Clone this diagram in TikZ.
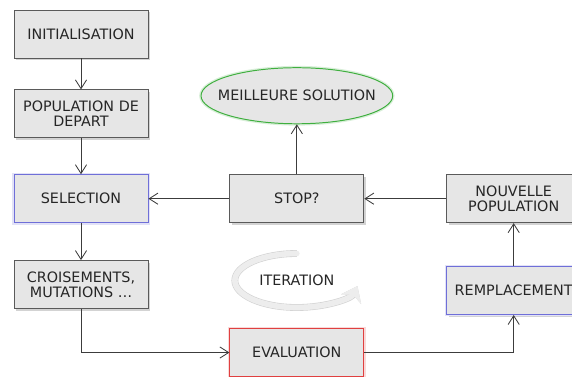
\documentclass[tikz,border=0pt]{standalone}
\usepackage{fontspec}
\setsansfont{DejaVu Sans}
\usetikzlibrary{arrows.meta, positioning, shapes.geometric, shadows}
\definecolor{gfill}{HTML}{E6E6E6}
\definecolor{gedge}{HTML}{5A5A5A}
\definecolor{gline}{HTML}{3C3C3C}
\definecolor{gblue}{HTML}{6F6FD8}
\definecolor{gred}{HTML}{E04040}
\definecolor{ggreen}{HTML}{3FAF3F}

\begin{document}
\begin{tikzpicture}[
  font=\sffamily\fontsize{10.2}{11}\selectfont,
  >={Straight Barb[length=2.2mm, width=2.8mm]},
  % grey steps of the loop, all the same size
  stepbox/.style = {draw=gedge, line width=0.6pt, fill=gfill, align=center,
                    minimum width=33.5mm, minimum height=12mm, inner sep=2pt,
                    text=black!85,
                    drop shadow={opacity=0.35, shadow xshift=0.6mm,
                                 shadow yshift=-0.6mm}},
  glow/.style    = {preaction={draw=#1!20, line width=2.6pt}, draw=#1},
  % tight ellipse: the text nearly touches its sides
  result/.style  = {ellipse, draw=ggreen, glow=ggreen, line width=0.7pt,
                    fill=gfill, inner xsep=-2.8mm, inner ysep=3.6mm,
                    text=black!85},
  flow/.style    = {->, draw=gline, line width=0.6pt},
  turn/.style    = {-{Stealth[length=3.6mm, width=5.5mm]}, draw=black!7,
                    line width=1.4mm, line cap=round,
                    preaction={draw=black!18, line width=1.7mm}},
]
% page frame: 572 x 376 px at 4 px per mm, first box centred at the origin
\useasboundingbox (-20.25mm,8.5mm) rectangle ++(143mm,-94mm);

% left column
\node[stepbox] (init) {INITIALISATION};
\node[stepbox, below=7.75mm of init] (pop) {POPULATION DE\\DEPART};
\node[stepbox, below=9mm of pop, glow=gblue] (sel) {SELECTION};
\node[stepbox, below=9.25mm of sel] (crois) {CROISEMENTS,\\MUTATIONS \dots};

% middle and right
\node[stepbox, right=20.25mm of sel] (stop) {STOP?};
\node[result, above=12.5mm of stop] (best) {MEILLEURE SOLUTION};
\node[stepbox, below=26.25mm of stop, glow=gred] (eval) {EVALUATION};
\node[stepbox, right=20.5mm of stop] (nouv) {NOUVELLE\\POPULATION};
\node[stepbox, below=10.75mm of nouv, glow=gblue] (remp) {REMPLACEMENT};

% the loop
\draw[flow] (init) -- (pop);
\draw[flow] (pop) -- (sel);
\draw[flow] (sel) -- (crois);
\draw[flow] (crois.south) |- (eval.west);
\draw[flow] (eval.east) -| (remp.south);
\draw[flow] (remp) -- (nouv);
\draw[flow] (nouv) -- (stop);
\draw[flow] (stop) -- (sel);
\draw[flow] (stop) -- (best);

% iteration mark
\node[below=11.75mm of stop, text=black!85] (iter) {ITERATION};
\draw[turn] ([shift={(90:15.5mm and 6.75mm)}]iter.center)
  arc[start angle=90, end angle=348, x radius=15.5mm, y radius=6.75mm];
\end{tikzpicture}
\end{document}
